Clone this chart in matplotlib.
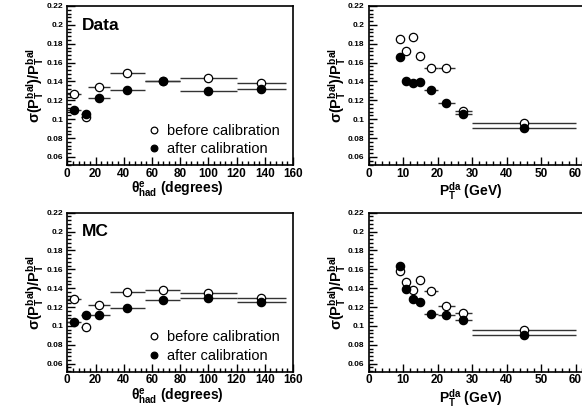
import matplotlib
matplotlib.use('Agg')
import matplotlib.pyplot as plt
from matplotlib.ticker import MultipleLocator, FuncFormatter

plt.rcParams.update({'font.family': 'Liberation Sans',
                     'mathtext.fontset': 'custom',
                     'mathtext.rm': 'Liberation Sans:bold',
                     'mathtext.it': 'Liberation Sans:bold',
                     'mathtext.bf': 'Liberation Sans:bold',
                     'mathtext.default': 'bf'})

# theta_had bins (degrees)
theta_x = [5, 13, 22.5, 42.5, 67.5, 100, 137.5]
theta_lo = [0, 10, 15, 30, 55, 80, 120]
theta_hi = [10, 16, 30, 55, 80, 120, 155]

data_theta_before = [0.127, 0.102, 0.134, 0.149, 0.1405, 0.1437, 0.1385]
data_theta_after = [0.1095, 0.1055, 0.1224, 0.1312, 0.1403, 0.1302, 0.132]
mc_theta_before = [0.1285, 0.0990, 0.1226, 0.1356, 0.1377, 0.1345, 0.1292]
mc_theta_after = [0.1042, 0.1113, 0.1113, 0.1191, 0.1271, 0.1300, 0.1258]

# P_T^da bins (GeV)
pt_x = [9, 11, 13, 15, 18, 22.5, 27.5, 45]
pt_lo = [8, 10, 12, 14, 16, 20, 25, 30]
pt_hi = [10, 12, 14, 16, 20, 25, 30, 60]

data_pt_before = [0.1848, 0.1728, 0.1876, 0.1671, 0.1545, 0.1545, 0.109, 0.096]
data_pt_after = [0.1657, 0.141, 0.1383, 0.139, 0.1312, 0.1171, 0.1058, 0.0907]
mc_pt_before = [0.1577, 0.1465, 0.1384, 0.149, 0.1366, 0.1208, 0.1138, 0.0955]
mc_pt_after = [0.1637, 0.1392, 0.1286, 0.1254, 0.1131, 0.1113, 0.106, 0.0899]

W, H = 582.0, 409.0
fig = plt.figure(figsize=(W / 100, H / 100), dpi=100)

ylabel = r'$\sigma(P_T^{bal})/P_T^{bal}$'


def make_panel(left, right, top, bottom, xlim, xmaj, xmin, x, lo, hi,
               before, after, xlabel, tag=None, legend=False):
    ax = fig.add_axes([left / W, 1 - bottom / H, (right - left) / W, (bottom - top) / H])
    xerr = [[c - l for c, l in zip(x, lo)], [h - c for c, h in zip(x, hi)]]
    ax.errorbar(x, before, xerr=xerr, fmt='none', ecolor='0.2', elinewidth=1.0, capsize=0)
    ax.errorbar(x, after, xerr=xerr, fmt='none', ecolor='0.2', elinewidth=1.0, capsize=0)
    h1, = ax.plot(x, before, 'o', mfc='white', mec='k', ms=6, mew=0.9, ls='none',
                  label='before calibration', zorder=3)
    h2, = ax.plot(x, after, 'o', mfc='k', mec='k', ms=6, mew=0.9, ls='none',
                  label='after calibration', zorder=3)
    ax.set_xlim(xlim)
    ax.set_ylim(0.0515, 0.22)
    ax.xaxis.set_major_locator(MultipleLocator(xmaj))
    ax.xaxis.set_minor_locator(MultipleLocator(xmin))
    ax.yaxis.set_major_locator(MultipleLocator(0.02))
    ax.yaxis.set_minor_locator(MultipleLocator(0.004))
    ax.yaxis.set_major_formatter(FuncFormatter(lambda v, p: '%g' % round(v, 3)))
    ax.xaxis.set_major_formatter(FuncFormatter(lambda v, p: '%g' % v))
    ax.tick_params(which='both', direction='in', top=False, right=False, width=1.0)
    ax.tick_params(which='major', length=5.5)
    ax.tick_params(which='minor', length=3)
    ax.tick_params(axis='y', labelsize=6, pad=3)
    ax.tick_params(axis='x', labelsize=8.5, pad=2)
    for lab in ax.get_xticklabels() + ax.get_yticklabels():
        lab.set_fontweight('bold')
    for s in ax.spines.values():
        s.set_linewidth(1.2)
    ax.set_ylabel(ylabel, fontsize=10.5)
    ax.yaxis.set_label_coords(-21 / (right - left), 0.5)
    ax.set_xlabel(xlabel, fontsize=10, fontweight='bold')
    ax.xaxis.set_label_coords(0.49 if tag else 0.472, -0.095)
    if tag:
        ax.text(0.065, 0.88, tag, transform=ax.transAxes, fontsize=12.5,
                fontweight='bold', va='center', ha='left')
    if legend:
        ax.legend(handles=[h1, h2], loc='center left', bbox_to_anchor=(0.35, 0.157),
                  frameon=False, fontsize=10.5, handlelength=1.0, handletextpad=0.4,
                  borderpad=0, borderaxespad=0, labelspacing=0.32, markerscale=0.8)
    return ax


theta_label = r'$\theta^{e}_{had}$ (degrees)'
pt_label = r'$P_T^{da}$ (GeV)'

make_panel(67.3, 293, 6, 165, (0, 160), 20, 4, theta_x, theta_lo, theta_hi,
           data_theta_before, data_theta_after, theta_label, 'Data', True)
make_panel(368.5, 585.9, 6, 165, (0, 63), 10, 2, pt_x, pt_lo, pt_hi,
           data_pt_before, data_pt_after, pt_label)
make_panel(67.3, 293, 212.7, 371.7, (0, 160), 20, 4, theta_x, theta_lo, theta_hi,
           mc_theta_before, mc_theta_after, theta_label, 'MC', True)
make_panel(368.5, 585.9, 212.7, 371.7, (0, 63), 10, 2, pt_x, pt_lo, pt_hi,
           mc_pt_before, mc_pt_after, pt_label)

fig.savefig('out.png', dpi=100)
